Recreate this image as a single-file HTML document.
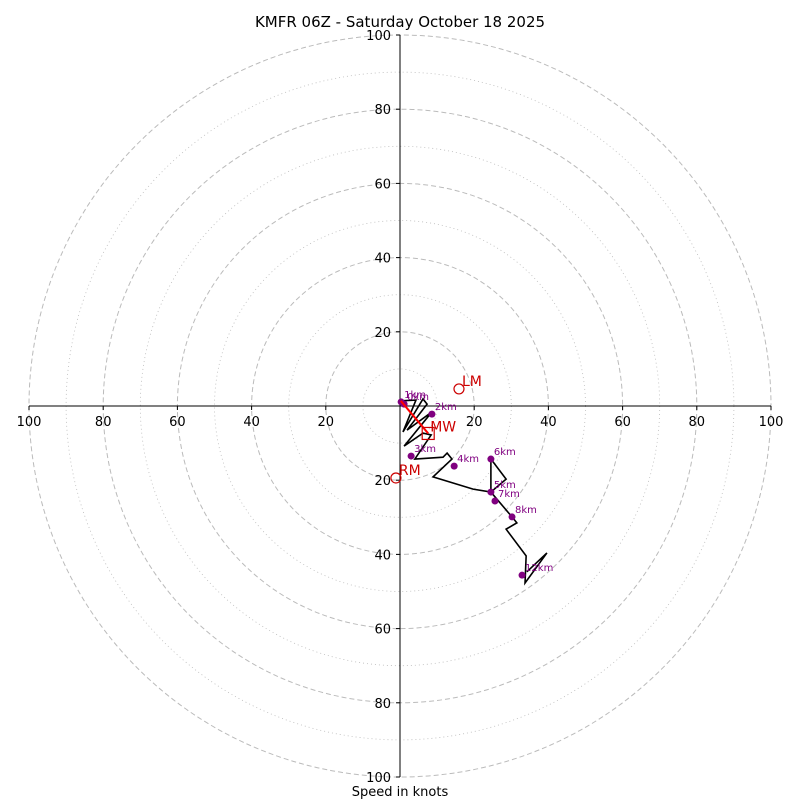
<!DOCTYPE html>
<html><head><meta charset="utf-8"><style>
html,body{margin:0;padding:0;background:#fff}
svg{display:block;font-family:"DejaVu Sans","Liberation Sans",sans-serif}
</style></head><body>
<svg id="c" width="800" height="800" viewBox="0 0 800 800">
<text x="400" y="27" font-size="15" text-anchor="middle">KMFR 06Z - Saturday October 18 2025</text>
<text x="400" y="796" font-size="13" text-anchor="middle">Speed in knots</text>
<g id="rings"></g><g id="axes"></g><g id="trace"></g><g id="dots"></g><g id="storm"></g>
</svg>
<script>
const ringSpeeds=[10,20,30,40,50,60,70,80,90,100];
const tickLabels=[20,40,60,80,100];
const hodoU=[0.3,4.3,0.8,6.2,7.3,1.9,8.6,1.1,6.2,8.4,4.0,11.6,12.7,14.0,8.9,19.7,24.5,24.5,28.6,24.5,30.2,31.5,28.6,34.0,33.7,39.6,34.2];
const hodoV=[1.4,1.6,-7.0,1.9,0.5,-6.5,-1.6,-10.8,-7.3,-7.8,-14.3,-13.8,-12.7,-14.3,-19.1,-22.4,-23.2,-14.3,-19.7,-23.2,-29.9,-31.5,-33.2,-40.4,-47.7,-39.6,-44.7];
const markLabels=["1km","0km","2km","3km","4km","5km","6km","7km","8km","12km"];
const markU=[0.3,1.1,8.6,3.0,14.6,24.5,24.5,25.6,30.2,32.9];
const markV=[1.1,0.5,-2.2,-13.5,-16.2,-23.2,-14.3,-25.6,-29.9,-45.6];
const stormNames=["LM","RM"];
const stormU=[15.9,-1.1];
const stormV=[4.6,-19.4];
const mwU=[7.6], mwV=[-7.4];
const NS="http://www.w3.org/2000/svg";
const cx=400,cy=406,s=3.71;
const X=u=>cx+u*s, Y=v=>cy-v*s;
function mk(tag,parent,attrs){const e=document.createElementNS(NS,tag);for(const k in attrs)e.setAttribute(k,attrs[k]);document.getElementById(parent).appendChild(e);return e;}
ringSpeeds.forEach(r=>{
  const e=mk('circle','rings',{cx:cx,cy:cy,r:r*s,fill:'none',stroke:'#bbb','stroke-width':r%20===0?1:0.8,'stroke-dasharray':r%20===0?'5,3':'1,3'});
  
  
});
let a=mk('line','axes',{x1:cx,y1:Y(100),x2:cx,y2:Y(-100),stroke:'#000','stroke-width':1});


a=mk('line','axes',{x1:X(-100),y1:cy,x2:X(100),y2:cy,stroke:'#000','stroke-width':1});


tickLabels.forEach(t=>{
  [1,-1].forEach(sg=>{
    const y=Y(sg*t);
    mk('line','axes',{x1:cx-4,y1:y,x2:cx,y2:y,stroke:'#000'});
    const ty=mk('text','axes',{x:cx-9,y:y+5,'font-size':13,'text-anchor':'end'});ty.textContent=t;
    
    
    const x=X(sg*t);
    mk('line','axes',{x1:x,y1:cy,x2:x,y2:cy+4,stroke:'#000'});
    const tx=mk('text','axes',{x:x,y:cy+20,'font-size':13,'text-anchor':'middle'});tx.textContent=t;
    
    
  });
});
const pl=mk('polyline','trace',{points:hodoU.map((u,i)=>X(u)+','+Y(hodoV[i])).join(' '),fill:'none',stroke:'#000','stroke-width':1.6,'stroke-linejoin':'miter'});


markLabels.forEach((l,i)=>{
  const d=mk('circle','dots',{cx:X(markU[i]),cy:Y(markV[i]),r:3.5,fill:'#800080'});
  
  
  const t=mk('text','dots',{x:X(markU[i])+3,y:Y(markV[i])-4,'font-size':10,fill:'#800080'});t.textContent=l;
  
  
});
stormNames.forEach((n,i)=>{
  const c=mk('circle','storm',{cx:X(stormU[i]),cy:Y(stormV[i]),r:5,fill:'none',stroke:'#c00','stroke-width':1.2});
  
  
  const t=mk('text','storm',{x:X(stormU[i])+3,y:Y(stormV[i])-3,'font-size':14,fill:'#c00'});t.textContent=n;
  
  
});
const ar=mk('line','storm',{x1:X(0.2),y1:Y(1.4),x2:X(mwU[0]),y2:Y(mwV[0]),stroke:'#f00','stroke-width':2});


const sq=mk('rect','storm',{x:X(mwU[0])-6,y:Y(mwV[0])-6,width:12,height:12,fill:'none',stroke:'#c00','stroke-width':1.2});


const mt=mk('text','storm',{x:X(mwU[0])+2,y:Y(mwV[0])-2,'font-size':14,fill:'#c00'});mt.textContent='MW';


</script>
</body></html>
